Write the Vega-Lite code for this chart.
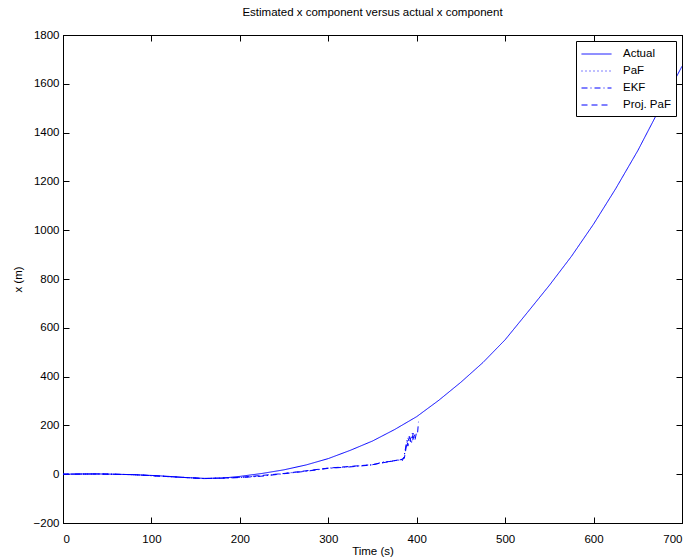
{
  "$schema": "https://vega.github.io/schema/vega-lite/v6.json",
  "width": 619,
  "height": 488,
  "autosize": "none",
  "padding": {"left": 63, "top": 35, "right": 12, "bottom": 35},
  "background": "white",
  "config": {
    "font": "Liberation Sans",
    "view": {"stroke": "black", "strokeWidth": 1},
    "axis": {
      "grid": false,
      "domainColor": "black",
      "tickColor": "black",
      "tickSize": -6,
      "labelColor": "black",
      "labelFontSize": 11.5,
      "titleFontSize": 11.5,
      "titleFontWeight": "normal",
      "titleColor": "black",
      "format": "d"
    },
    "axisX": {"labelPadding": 16},
    "axisY": {"labelPadding": 10}
  },
  "title": {"text": "Estimated x component versus actual x component", "fontSize": 11.5, "fontWeight": "normal", "offset": 11, "color": "black"},
  "datasets": {
    "main": [
      {"t": 0, "x": 0, "s": "Actual"}, {"t": 20, "x": 1, "s": "Actual"}, {"t": 40, "x": 1, "s": "Actual"}, {"t": 60, "x": 0, "s": "Actual"}, {"t": 80, "x": -2, "s": "Actual"}, {"t": 100, "x": -5, "s": "Actual"}, {"t": 120, "x": -9, "s": "Actual"}, {"t": 140, "x": -14, "s": "Actual"}, {"t": 160, "x": -17, "s": "Actual"}, {"t": 180, "x": -16, "s": "Actual"}, {"t": 200, "x": -9, "s": "Actual"}, {"t": 225, "x": 3, "s": "Actual"}, {"t": 250, "x": 18, "s": "Actual"}, {"t": 275, "x": 38, "s": "Actual"}, {"t": 300, "x": 64, "s": "Actual"}, {"t": 325, "x": 98, "s": "Actual"}, {"t": 350, "x": 136, "s": "Actual"}, {"t": 375, "x": 183, "s": "Actual"}, {"t": 400, "x": 236, "s": "Actual"}, {"t": 425, "x": 303, "s": "Actual"}, {"t": 450, "x": 377, "s": "Actual"}, {"t": 475, "x": 458, "s": "Actual"}, {"t": 500, "x": 551, "s": "Actual"}, {"t": 525, "x": 662, "s": "Actual"}, {"t": 550, "x": 774, "s": "Actual"}, {"t": 575, "x": 893, "s": "Actual"}, {"t": 600, "x": 1025, "s": "Actual"}, {"t": 625, "x": 1170, "s": "Actual"}, {"t": 650, "x": 1326, "s": "Actual"}, {"t": 675, "x": 1500, "s": "Actual"}, {"t": 700, "x": 1672, "s": "Actual"},

      {"t": 0, "x": 0, "s": "PaF"}, {"t": 40, "x": 1, "s": "PaF"}, {"t": 80, "x": -2, "s": "PaF"}, {"t": 120, "x": -10, "s": "PaF"}, {"t": 160, "x": -18, "s": "PaF"}, {"t": 200, "x": -13, "s": "PaF"}, {"t": 225, "x": -7, "s": "PaF"}, {"t": 250, "x": 3, "s": "PaF"}, {"t": 275, "x": 13, "s": "PaF"}, {"t": 300, "x": 25, "s": "PaF"}, {"t": 325, "x": 31, "s": "PaF"}, {"t": 350, "x": 39, "s": "PaF"}, {"t": 365, "x": 50, "s": "PaF"}, {"t": 380, "x": 58, "s": "PaF"}, {"t": 385, "x": 56, "s": "PaF"}, {"t": 388, "x": 115, "s": "PaF"}, {"t": 391, "x": 158, "s": "PaF"}, {"t": 393, "x": 128, "s": "PaF"}, {"t": 395, "x": 168, "s": "PaF"}, {"t": 397, "x": 145, "s": "PaF"},

      {"t": 0, "x": 0, "s": "EKF"}, {"t": 40, "x": 1, "s": "EKF"}, {"t": 80, "x": -2, "s": "EKF"}, {"t": 120, "x": -10, "s": "EKF"}, {"t": 160, "x": -18, "s": "EKF"}, {"t": 200, "x": -14, "s": "EKF"}, {"t": 225, "x": -8, "s": "EKF"}, {"t": 250, "x": 2, "s": "EKF"}, {"t": 275, "x": 12, "s": "EKF"}, {"t": 300, "x": 24, "s": "EKF"}, {"t": 325, "x": 30, "s": "EKF"}, {"t": 350, "x": 38, "s": "EKF"}, {"t": 362, "x": 50, "s": "EKF"}, {"t": 370, "x": 52, "s": "EKF"}, {"t": 380, "x": 58, "s": "EKF"}, {"t": 385, "x": 62, "s": "EKF"}, {"t": 387, "x": 100, "s": "EKF"}, {"t": 389, "x": 140, "s": "EKF"}, {"t": 390, "x": 115, "s": "EKF"}, {"t": 392, "x": 155, "s": "EKF"}, {"t": 394, "x": 125, "s": "EKF"}, {"t": 396, "x": 168, "s": "EKF"}, {"t": 398, "x": 140, "s": "EKF"}, {"t": 400, "x": 175, "s": "EKF"},

      {"t": 0, "x": 0, "s": "Proj. PaF"}, {"t": 40, "x": 1, "s": "Proj. PaF"}, {"t": 80, "x": -2, "s": "Proj. PaF"}, {"t": 120, "x": -10, "s": "Proj. PaF"}, {"t": 160, "x": -18, "s": "Proj. PaF"}, {"t": 200, "x": -13, "s": "Proj. PaF"}, {"t": 250, "x": 3, "s": "Proj. PaF"}, {"t": 300, "x": 25, "s": "Proj. PaF"}, {"t": 350, "x": 39, "s": "Proj. PaF"}, {"t": 380, "x": 59, "s": "Proj. PaF"}, {"t": 386, "x": 65, "s": "Proj. PaF"}, {"t": 389, "x": 130, "s": "Proj. PaF"}, {"t": 392, "x": 150, "s": "Proj. PaF"}, {"t": 395, "x": 135, "s": "Proj. PaF"}, {"t": 398, "x": 165, "s": "Proj. PaF"}, {"t": 401, "x": 170, "s": "Proj. PaF"}, {"t": 402, "x": 215, "s": "Proj. PaF"}
    ]
  },
  "data": {"name": "main"},
  "layer": [
    {
      "mark": {"type": "line", "strokeWidth": 1, "clip": true, "color": "#0000ff"},
      "encoding": {
        "x": {"field": "t", "type": "quantitative", "scale": {"domain": [0, 700], "nice": false, "zero": false},
              "axis": {"values": [0, 100, 200, 300, 400, 500, 600, 700], "title": "Time (s)", "titlePadding": 1}},
        "y": {"field": "x", "type": "quantitative", "scale": {"domain": [-200, 1800], "nice": false, "zero": false},
              "axis": {"values": [-200, 0, 200, 400, 600, 800, 1000, 1200, 1400, 1600, 1800], "title": "x (m)", "titlePadding": 10}},
        "detail": {"field": "s", "type": "nominal"},
        "strokeDash": {"field": "s", "type": "nominal",
                       "scale": {"domain": ["Actual", "PaF", "EKF", "Proj. PaF"], "range": [[1, 0], [1, 3], [6, 3, 1, 3], [6, 4]]},
                       "legend": {"title": null, "orient": "top-right", "offset": 6, "strokeColor": "black", "fillColor": "white",
                                  "padding": 5, "symbolType": "M-1,0H3", "symbolSize": 225, "symbolStrokeWidth": 1, "symbolStrokeColor": "#0000ff", "labelOffset": 26,
                                  "labelFontSize": 11.5, "labelColor": "black", "rowPadding": 3, "cornerRadius": 0}},
        "order": {"field": "t", "type": "quantitative"}
      }
    },
    {
      "mark": {"type": "line", "opacity": 0},
      "encoding": {
        "x": {"field": "t", "type": "quantitative", "axis": {"orient": "top", "values": [0, 100, 200, 300, 400, 500, 600, 700], "labels": false, "title": null}},
        "y": {"field": "x", "type": "quantitative", "axis": {"orient": "right", "values": [-200, 0, 200, 400, 600, 800, 1000, 1200, 1400, 1600, 1800], "labels": false, "title": null}}
      }
    }
  ],
  "resolve": {"axis": {"x": "independent", "y": "independent"}}
}
